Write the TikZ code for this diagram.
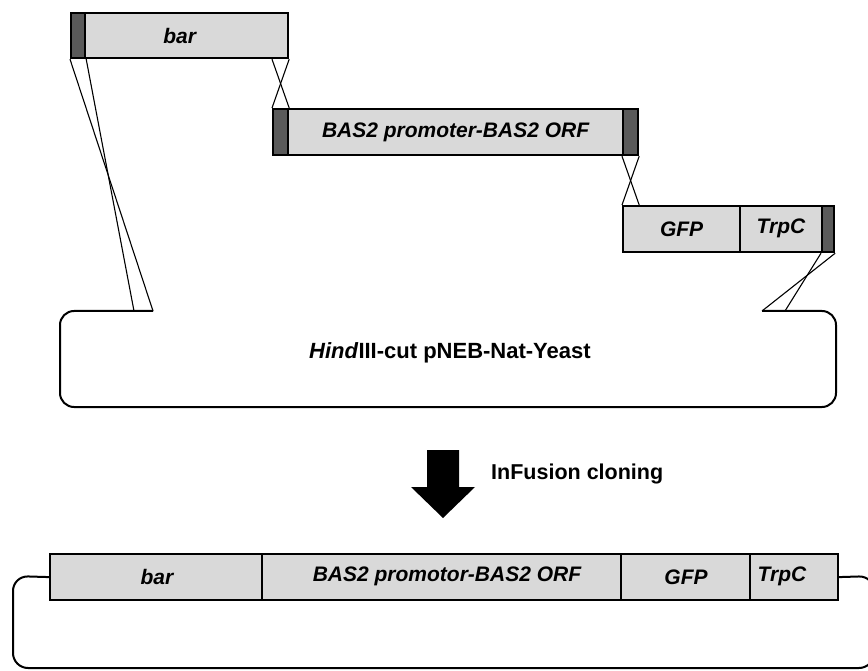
\documentclass[tikz,border=0pt]{standalone}
\usepackage{fontspec}
\setmainfont{Liberation Sans}
\definecolor{boxgray}{HTML}{D9D9D9}
\definecolor{capgray}{HTML}{5A5A5A}
\begin{document}
\begin{tikzpicture}[x=1pt,y=-1pt,
  box/.style={draw=black, line width=2.2pt, fill=boxgray, minimum height=45pt,
    inner sep=0pt, anchor=north west, font=\fontsize{21}{24}\selectfont\bfseries\itshape},
  capbox/.style={box, fill=capgray},
  bbox/.style={draw=black, line width=2.2pt, fill=boxgray, minimum height=46pt,
    inner sep=0pt, anchor=north west},
  lbl/.style={font=\fontsize{21}{24}\selectfont\bfseries\itshape, inner sep=0pt},
  plasmid/.style={draw=black, line width=2pt},
  thinline/.style={draw=black, line width=1.1pt}
]
\useasboundingbox (0,0) rectangle (868,671);
\clip (0,0) rectangle (868,671);

% fragment 1: bar
\node[box, minimum width=217pt] (bar) at (70,12) {bar};
\node[capbox, minimum width=14pt] (barcap) at (70,12) {};

% fragment 2: BAS2
\node[box, minimum width=365pt, minimum height=46pt] (bas) at (272,108) {BAS2 promoter-BAS2 ORF};
\node[capbox, minimum width=15pt, minimum height=46pt] (bascapL) at (272,108) {};
\node[capbox, minimum width=15pt, minimum height=46pt] (bascapR) at (622,108) {};

% fragment 3: GFP-TrpC
\node[box, minimum width=117pt, minimum height=46pt] (gfp) at (622,205) {GFP};
\node[box, minimum width=94pt, minimum height=46pt] (trpc) at (739,205) {};
\node[capbox, minimum width=12pt, minimum height=46pt] (trpccap) at (821,205) {};
\node[lbl] (trpclbl) at (781,228) {TrpC};

% cut vector
\coordinate (pLo) at (153,311);
\coordinate (pLi) at (134,311);
\coordinate (pRo) at (762,311);
\coordinate (pRi) at (785,311);
\draw[plasmid, rounded corners=14pt] (pLo) -- (60,311) -- (60,407) -- (836,407) -- (836,311) -- (pRo);
\node[font=\fontsize{22}{24}\selectfont\bfseries] (vec) at (450,353) {\textit{Hind}III-cut pNEB-Nat-Yeast};

% overlap connectors
\draw[thinline] (barcap.south west) -- (pLo);
\draw[thinline] (barcap.south east) -- (pLi);
\draw[thinline] (bar.south east) -- (bascapL.north west);
\draw[thinline] (bascapL.north west |- bar.south) -- (bascapL.north east);
\draw[thinline] (bascapR.south west) -- (bascapR.south east |- gfp.north);
\draw[thinline] (bascapR.south east) -- (gfp.north west);
\draw[thinline] (trpccap.south west) -- (pRi);
\draw[thinline] (trpccap.south east) -- (pRo);

% process arrow
\fill[black] (427,450) -- (459,450) -- (459,487) -- (475,487) -- (443,518) -- (411,487) -- (427,487) -- cycle;
\node[anchor=west, font=\fontsize{21.5}{24}\selectfont\bfseries, inner sep=0pt] (infusion) at (491,474) {InFusion cloning};

% final construct
\node[bbox, minimum width=212pt] (bbar) at (49,553) {};
\node[bbox, minimum width=359pt] (bbas) at (261,553) {};
\node[bbox, minimum width=129pt] (bgfp) at (620,553) {};
\node[bbox, minimum width=88pt] (btrpc) at (749,553) {};
\node[lbl] (lbar) at (157,577) {bar};
\node[lbl] (lbas) at (447,576) {BAS2 promotor-BAS2 ORF};
\node[lbl] (lgfp) at (686,577) {GFP};
\node[lbl] (ltrpc) at (782,576) {TrpC};
\draw[plasmid, rounded corners=15pt] (bbar.west) -- (13,576) -- (13,668) -- (874,668) -- (874,576) -- (btrpc.east);
\end{tikzpicture}
\end{document}
